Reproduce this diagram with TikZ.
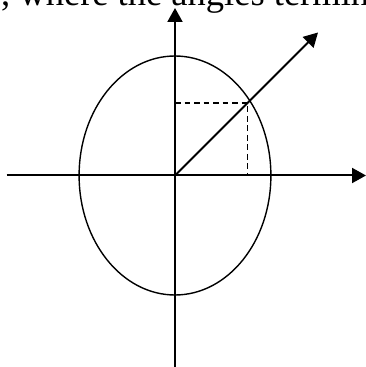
\documentclass[tikz,border=0pt]{standalone}
\usepackage{fontspec}
\setmainfont{Liberation Serif}
\usetikzlibrary{arrows.meta,calc}
\begin{document}
\begin{tikzpicture}[x=1pt,y=1pt,
  axis/.style={line width=2pt,-{Triangle[length=14pt,width=15pt]}},
  dashline/.style={line width=1.7pt,dash pattern=on 5.7pt off 3.8pt},
  curve/.style={line width=1.4pt},
  caption/.style={anchor=base west,inner sep=0pt,font=\fontsize{36.5}{40}\selectfont}]
\useasboundingbox (0,0) rectangle (366,367);
\clip (0,0) rectangle (366,367);
\coordinate (O) at (175,191.5);
\coordinate (Xl) at (6.5,191.5);
\coordinate (Xr) at (366,191.5);
\coordinate (Yb) at (175,-2);
\coordinate (Yt) at (175,359);
\coordinate (P) at ($(O)+(143,143)$);
\coordinate (Q) at ($(O)+(72.5,72.5)$);
\node[caption] (txt) at (1,361.8) {, where the angles terminate};
\draw[curve] (O) ellipse [x radius=95.9, y radius=119.5];
\draw[dashline] (O |- Q) -- (Q) -- (Q |- O);
\draw[axis] (Xl) -- (Xr);
\draw[axis] (Yb) -- (Yt);
\draw[axis] (O) -- (P);
\end{tikzpicture}
\end{document}
